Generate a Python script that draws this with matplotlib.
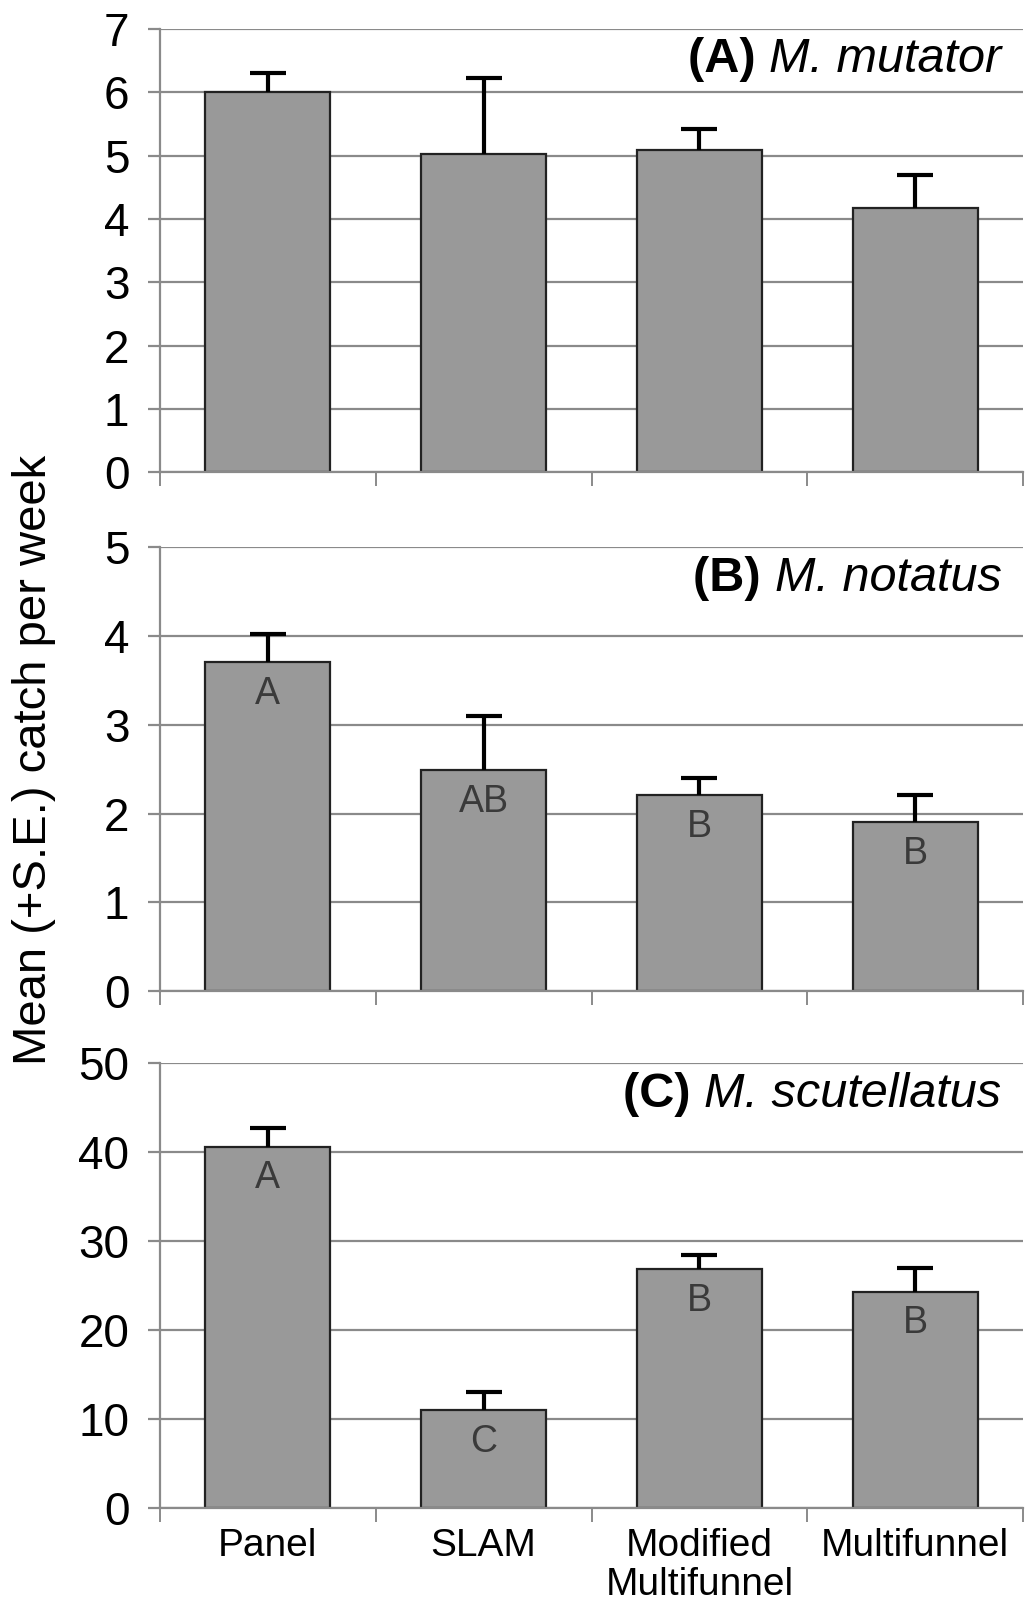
import numpy as np
import matplotlib
matplotlib.use("Agg")
import matplotlib.pyplot as plt

plt.rcParams["font.family"] = ["Liberation Sans", "DejaVu Sans"]

categories = ["Panel", "SLAM", "Modified\nMultifunnel", "Multifunnel"]

# (A) M. mutator
mutator_mean = [6.0, 5.02, 5.09, 4.18]
mutator_se = [0.31, 1.2, 0.33, 0.52]
# (B) M. notatus
notatus_mean = [3.71, 2.49, 2.21, 1.90]
notatus_se = [0.31, 0.61, 0.19, 0.31]
notatus_letters = ["A", "AB", "B", "B"]
# (C) M. scutellatus
scutellatus_mean = [40.6, 10.95, 26.8, 24.3]
scutellatus_se = [2.1, 2.0, 1.6, 2.7]
scutellatus_letters = ["A", "C", "B", "B"]

panels = [
    ("(A) ", "M. mutator", mutator_mean, mutator_se, None, 7, 1),
    ("(B) ", "M. notatus", notatus_mean, notatus_se, notatus_letters, 5, 1),
    ("(C) ", "M. scutellatus", scutellatus_mean, scutellatus_se, scutellatus_letters, 50, 10),
]

W, H = 1026, 1611
fig = plt.figure(figsize=(W / 100, H / 100), dpi=100)

left = 160 / W
right = 1023 / W
boxes = [(28.8, 472.4), (547.4, 991.0), (1063.0, 1507.6)]
GRID = "#8a8a8a"

x = np.arange(len(categories))
for (tag, species, mean, se, letters, ymax, step), (top, bot) in zip(panels, boxes):
    ax = fig.add_axes([left, 1 - bot / H, right - left, (bot - top) / H])
    ax.set_axisbelow(True)
    ax.bar(x, mean, width=0.58, color="#999999", edgecolor="#222222", linewidth=1.6, zorder=2)
    eb = ax.errorbar(x, mean, yerr=[np.zeros(len(mean)), se], fmt="none", ecolor="black",
                     elinewidth=3, capsize=13, capthick=3, zorder=3)
    eb[1][0].set_visible(False)

    if letters:
        for xi, m, lab in zip(x, mean, letters):
            ax.annotate(lab, xy=(xi, m), xytext=(0, -10), textcoords="offset points",
                        ha="center", va="top", fontsize=27, color="#3a3a3a", zorder=4)

    ax.set_xlim(-0.5, 3.5)
    ax.set_ylim(0, ymax)
    ax.set_yticks(np.arange(0, ymax + step / 2, step))
    ax.yaxis.grid(True, color=GRID, linewidth=1.6)
    ax.set_xticks(np.arange(-0.5, 4.0, 1.0))
    ax.set_xticks(x, minor=True)
    ax.tick_params(axis="x", which="major", length=10, width=1.4, color=GRID, labelbottom=False)
    ax.tick_params(axis="x", which="minor", length=0, pad=15, labelsize=28)
    ax.tick_params(axis="y", length=9, width=1.6, color=GRID, pad=13, labelsize=33)
    for s in ["top", "right"]:
        ax.spines[s].set_visible(False)
    for s in ["left", "bottom"]:
        ax.spines[s].set_color(GRID)
        ax.spines[s].set_linewidth(1.6)

    t = ax.text(0.975, 0.93, species, transform=ax.transAxes, ha="right", va="center",
                fontsize=35, style="italic")
    ax.annotate(tag, xy=(0, 0.5), xycoords=t, ha="right", va="center",
                fontsize=35, fontweight="bold")

    if tag.startswith("(C"):
        ax.set_xticklabels(categories, minor=True, linespacing=1.1)
        ax.tick_params(axis="x", which="minor", labelbottom=True)

fig.text(0.033, 0.528, "Mean (+S.E.) catch per week", rotation=90,
         ha="center", va="center", fontsize=34)

fig.savefig("out.png", dpi=100)
